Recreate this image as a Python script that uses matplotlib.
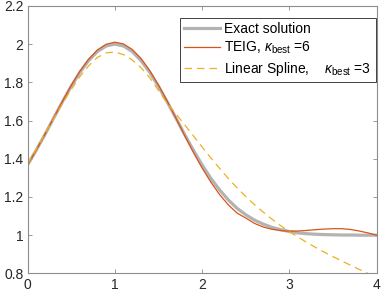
import matplotlib
matplotlib.use("Agg")
import matplotlib.pyplot as plt
import numpy as np

plt.rcParams['font.family'] = ['Liberation Sans', 'DejaVu Sans']
plt.rcParams['mathtext.fontset'] = 'custom'
plt.rcParams['mathtext.rm'] = 'Liberation Sans'
plt.rcParams['mathtext.it'] = 'Liberation Sans:italic'

# sample positions (read every 0.1 along x)
x = np.arange(41) / 10.0

exact = [1.368, 1.445, 1.527, 1.613, 1.698, 1.779, 1.852, 1.914, 1.961, 1.990,
         2.000, 1.990, 1.961, 1.914, 1.852, 1.779, 1.698, 1.613, 1.527, 1.445,
         1.368, 1.298, 1.237, 1.185, 1.141, 1.107, 1.079, 1.058, 1.041, 1.029,
         1.019, 1.012, 1.008, 1.005, 1.003, 1.002, 1.001, 1.001, 1.000, 1.000,
         1.000]

teig = [1.365, 1.445, 1.528, 1.614, 1.700, 1.783, 1.858, 1.921, 1.969, 1.999,
        2.010, 2.001, 1.972, 1.925, 1.862, 1.786, 1.702, 1.613, 1.522, 1.434,
        1.352, 1.278, 1.213, 1.159, 1.116, 1.090, 1.062, 1.043, 1.031, 1.024,
        1.021, 1.022, 1.025, 1.029, 1.032, 1.034, 1.034, 1.030, 1.022, 1.012,
        1.000]

spline = [1.370, 1.450, 1.530, 1.610, 1.688, 1.762, 1.830, 1.886, 1.930, 1.954,
          1.959, 1.945, 1.917, 1.877, 1.824, 1.758, 1.690, 1.635, 1.578, 1.520,
          1.462, 1.405, 1.350, 1.297, 1.248, 1.203, 1.160, 1.121, 1.084, 1.050,
          1.018, 0.990, 0.962, 0.936, 0.911, 0.888, 0.865, 0.843, 0.821, 0.800,
          0.779]

labels = ['Exact solution',
          r'TEIG, $\kappa_{\rm best}$ =6',
          r'Linear Spline,    $\kappa_{\rm best}$ =3']

fig = plt.figure(figsize=(3.82, 2.94), dpi=100)
ax = fig.add_axes([0.072, 0.070, 0.914, 0.910])

ax.plot(x, exact, color='#b3b3b3', lw=2.3, label=labels[0])
ax.plot(x, teig, color='#D95319', lw=0.9, label=labels[1])
ax.plot(x, spline, color='#EDB120', lw=0.9, ls=(0, (6, 4)), label=labels[2])

ax.set_xlim(0, 4)
ax.set_ylim(0.8, 2.2)
ax.set_xticks([0, 1, 2, 3, 4])
ax.set_yticks([0.8, 1, 1.2, 1.4, 1.6, 1.8, 2, 2.2])
ax.set_yticklabels(['0.8', '1', '1.2', '1.4', '1.6', '1.8', '2', '2.2'])

for s in ax.spines.values():
    s.set_color('#8c8c8c')
    s.set_linewidth(0.8)
ax.tick_params(direction='in', length=3, width=0.6, color='#8c8c8c',
               top=True, right=True, labelsize=10, labelcolor='#262626', pad=3)

leg = ax.legend(loc='upper right', bbox_to_anchor=(0.997, 0.955), borderaxespad=0,
                fontsize=10, handlelength=2.6, handletextpad=0.3, labelspacing=0.28,
                borderpad=0.3, fancybox=False, framealpha=1)
leg.get_frame().set_edgecolor('#404040')
leg.get_frame().set_linewidth(0.7)

fig.savefig('out.png', dpi=100)
